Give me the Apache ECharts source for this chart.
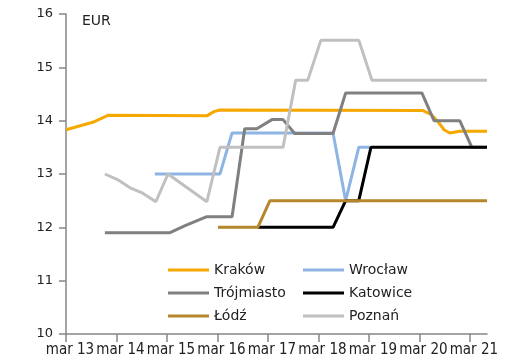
<!DOCTYPE html>
<html><head><meta charset="utf-8">
<script src="https://cdn.jsdelivr.net/npm/echarts@6/dist/echarts.min.js"></script>
<style>html,body{margin:0;padding:0;background:#fff}#c{width:508px;height:361px}</style>
</head><body><div id="c"></div>
<script>
// day-of-March, EUR
const krakow = [[13.00,13.83],[13.53,13.97],[13.83,14.10],[15.79,14.09],[15.93,14.17],[16.05,14.20],[20.07,14.19],[20.23,14.12],[20.37,13.98],[20.49,13.83],[20.60,13.77],[20.80,13.80],[21.34,13.80]];
const wroclaw = [[14.76,13.0],[16.05,13.0],[16.29,13.77],[18.29,13.77],[18.54,12.5],[18.80,13.5],[19.02,13.5]];
const trojmiasto = [[13.77,11.9],[15.06,11.9],[15.36,12.03],[15.79,12.2],[16.29,12.2],[16.54,13.85],[16.78,13.85],[17.08,14.02],[17.30,14.02],[17.53,13.76],[18.29,13.76],[18.54,14.52],[20.05,14.52],[20.29,14.0],[20.80,14.0],[21.04,13.5],[21.34,13.5]];
const katowice = [[16.80,12.0],[18.29,12.0],[18.54,12.5],[18.80,12.5],[19.04,13.5],[21.34,13.5]];
const lodz = [[16.01,12.0],[16.80,12.0],[17.04,12.5],[21.34,12.5]];
const poznan = [[13.77,13.0],[14.01,12.9],[14.27,12.74],[14.52,12.64],[14.78,12.48],[15.02,13.0],[15.79,12.48],[16.05,13.5],[17.30,13.5],[17.55,14.76],[17.79,14.76],[18.05,15.51],[18.80,15.51],[19.06,14.76],[21.34,14.76]];
const seriesNames = ['Kraków','Wrocław','Trójmiasto','Katowice','Łódź','Poznań'];
const seriesColors = ['#F5A800','#8DB4E2','#808080','#000000','#B5862A','#C0C0C0'];
const xTicks = [13,14,15,16,17,18,19,20,21];
const yTicks = [10,11,12,13,14,15,16];

const seriesData = [krakow, wroclaw, trojmiasto, katowice, lodz, poznan];
const FONT = 'DejaVu Sans';
const chart = echarts.init(document.getElementById('c'));
const legendCommon = {
  orient:'vertical', icon:'rect', itemWidth:41, itemHeight:3, itemGap:9,
  textStyle:{fontFamily:FONT,fontSize:14,color:'#222'}
};
const lineSt = {color:'#868686',width:1.5};
chart.setOption({
  animation:false,
  grid:{left:66,right:21,top:14,bottom:27,containLabel:false},
  graphic:[{type:'text',left:82,top:14,style:{text:'EUR',font:'14px "DejaVu Sans"',fill:'#222'}}],
  legend:[
    Object.assign({left:163,top:258,data:['Kraków','Trójmiasto','Łódź']},legendCommon),
    Object.assign({left:298,top:258,data:['Wrocław','Katowice','Poznań']},legendCommon)
  ],
  xAxis:{type:'value',min:13,max:21.34,interval:1,
    axisLine:{show:true,onZero:false,lineStyle:lineSt},
    axisTick:{show:true,length:8,customValues:xTicks,lineStyle:lineSt},
    axisLabel:{customValues:xTicks,formatter:v=>'mar '+v,fontFamily:'DejaVu Sans Condensed',fontSize:15,color:'#222',margin:9,padding:[0,0,0,8]},
    splitLine:{show:false}},
  yAxis:{type:'value',min:10,max:16,interval:1,
    axisLine:{show:true,onZero:false,lineStyle:lineSt},
    axisTick:{show:true,length:7,lineStyle:lineSt},
    axisLabel:{fontFamily:FONT,fontSize:13,color:'#222',margin:13},
    splitLine:{show:false}},
  series: seriesData.map((d,i)=>({
    name:seriesNames[i], type:'line', data:d, showSymbol:false, symbol:'none',
    color:seriesColors[i], lineStyle:{width:3,color:seriesColors[i]}
  }))
});
</script></body></html>
